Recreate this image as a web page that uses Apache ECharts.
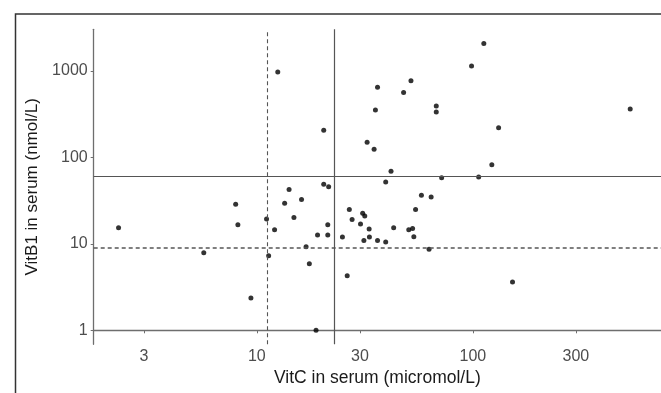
<!DOCTYPE html>
<html>
<head>
<meta charset="utf-8">
<script src="https://cdn.jsdelivr.net/npm/echarts@6/dist/echarts.min.js"></script>
<style>
html,body{margin:0;padding:0;background:#fff;}
#chart{width:661px;height:393px;}
</style>
</head>
<body>
<div id="chart"></div>
<script>
// VitC in serum (micromol/L)
const vitC = [2.29, 5.68, 7.98, 8.17, 9.39, 11.09, 11.34, 12.5, 12.08, 13.45,
  14.1, 14.85, 16.1, 16.9, 17.5, 18.8, 19.1, 20.4, 20.4, 21.5,
  21.3, 21.3, 24.9, 26.2, 26.8, 27.6, 30.2, 30.9, 31.6, 31.3,
  32.4, 33.1, 33.2, 34.9, 35.4, 36.2, 36.2, 39.5, 39.5, 41.8,
  43.0, 47.8, 50.5, 51.7, 52.6, 53.3, 54.3, 57.8, 62.7, 64.1,
  67.7, 67.7, 71.7, 98.6, 106.4, 112.4, 122.4, 131.6, 152.6, 535];
// VitB1 in serum (nmol/L)
const vitB1 = [15.3, 7.87, 28.7, 16.6, 2.36, 19.4, 7.28, 966, 14.5, 29.4,
  42.4, 20.1, 32.5, 9.22, 5.87, 1.0, 12.6, 205, 48.7, 45.5,
  16.6, 12.6, 12.0, 4.28, 24.9, 19.1, 16.9, 22.6, 21.0, 10.9,
  149, 14.8, 12.0, 124, 351, 643, 10.9, 51.9, 10.5, 68.9,
  15.3, 562, 14.5, 767, 15.0, 12.1, 24.9, 36.5, 8.67, 34.8,
  391, 333, 57.8, 1132, 59.3, 2067, 82.2, 220, 3.62, 361];
// cut-off reference lines
const vitCCutoffDashed = 11.3;
const vitCCutoffSolid = 22.7;
const vitB1CutoffSolid = 60;
const vitB1CutoffDashed = 9.0;
// tick labels
const xTicks = [3, 10, 30, 100, 300];
const yTicks = [1, 10, 100, 1000];
// axis extents
const xRange = [1.757, 743];
const yRange = [0.689, 3015];

const L = Math.log10;
const points = vitC.map((c, i) => [L(c), L(vitB1[i])]);
const fmt = v => String(Math.round(Math.pow(10, v)));
const font = "'Liberation Sans', Arial, sans-serif";

const chart = echarts.init(document.getElementById('chart'), null, {renderer: 'canvas'});
const lineCol = '#555555';
chart.setOption({
  animation: false,
  backgroundColor: '#ffffff',
  grid: {left: 93.7, right: 0, top: 29.3, bottom: 48.7, containLabel: false},
  graphic: [{
    type: 'rect', left: 13, top: 11.5, silent: true,
    shape: {width: 700, height: 420},
    style: {fill: 'none', stroke: '#333333', lineWidth: 1.5}
  }],
  xAxis: {
    type: 'value', min: L(xRange[0]), max: L(xRange[1]),
    name: 'VitC in serum (micromol/L)', nameLocation: 'middle', nameGap: 14,
    nameTextStyle: {fontFamily: font, fontSize: 17.5, color: '#1a1a1a'},
    axisLine: {show: true, lineStyle: {color: '#6e6e6e', width: 1.3}},
    axisTick: {show: true, length: 3, lineStyle: {color: '#6e6e6e'}, customValues: xTicks.map(L)},
    axisLabel: {customValues: xTicks.map(L), formatter: fmt, margin: 4,
      fontFamily: font, fontSize: 16, color: '#4d4d4d'},
    splitLine: {show: false}
  },
  yAxis: {
    type: 'value', min: L(yRange[0]), max: L(yRange[1]),
    name: 'VitB1 in serum (nmol/L)', nameLocation: 'middle', nameGap: 40,
    nameTextStyle: {fontFamily: font, fontSize: 17, color: '#1a1a1a'},
    axisLine: {show: true, lineStyle: {color: '#6e6e6e', width: 1.3}},
    axisTick: {show: true, length: 3, lineStyle: {color: '#6e6e6e'}, customValues: yTicks.map(L)},
    axisLabel: {customValues: yTicks.map(L), formatter: fmt, margin: 6,
      fontFamily: font, fontSize: 16, color: '#4d4d4d'},
    splitLine: {show: false}
  },
  series: [{
    type: 'scatter',
    data: points,
    symbol: 'circle',
    symbolSize: 5,
    itemStyle: {color: '#000000'},
    silent: true,
    markLine: {
      silent: true, symbol: 'none', label: {show: false},
      data: [
        {xAxis: L(vitCCutoffDashed), lineStyle: {color: lineCol, width: 1.1, type: [4, 3]}},
        {xAxis: L(vitCCutoffSolid), lineStyle: {color: lineCol, width: 1.2, type: 'solid'}},
        {yAxis: L(vitB1CutoffSolid), lineStyle: {color: lineCol, width: 1.2, type: 'solid'}},
        {yAxis: L(vitB1CutoffDashed), lineStyle: {color: lineCol, width: 1.5, type: [4, 3]}}
      ]
    }
  }]
});
</script>
</body>
</html>
